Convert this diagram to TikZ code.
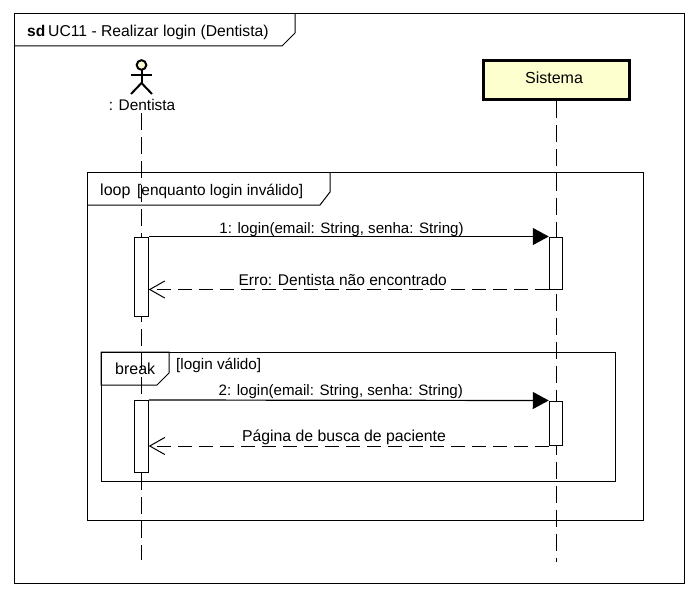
\documentclass[tikz,border=0pt]{standalone}
\usepackage{fontspec}
\setmainfont{Liberation Sans}
\usetikzlibrary{arrows.meta}
\definecolor{umlyellow}{HTML}{FEFFCE}
\tikzset{
  framebox/.style={draw, line width=1pt},
  lifeline/.style={line width=1pt, dash pattern=on 17pt off 7pt},
  actbar/.style={draw, fill=white, line width=1pt, inner sep=0pt, minimum width=13.5pt},
  msgcall/.style={line width=1.2pt, -{Triangle[length=16pt, width=17pt]}},
  msgreply/.style={line width=1pt, dash pattern=on 14pt off 7pt, -{Straight Barb[length=15pt, width=17pt, line width=1pt]}},
  msgtext/.style={inner sep=0pt, font=\fontsize{#1}{18}\selectfont},
  msgtext/.default=15,
}

\begin{document}
\begin{tikzpicture}[x=1pt, y=-1pt]
\useasboundingbox (0,0) rectangle (698,596);

% outer frame
\draw[framebox] (14,14) rectangle (684,583);
\draw[framebox] (14,46) -- (282,46) -- (295,33) -- (295,14);
\node[msgtext=15.5, anchor=base west] (sdlabel) at (27,37) {\textbf{sd}};
\node[msgtext=15.7, anchor=base west] (sdtitle) at (48,37) {UC11 - Realizar login (Dentista)};

% fragments
\draw[framebox] (87,173) rectangle (643,520);
\draw[framebox] (87,205) -- (320,205) -- (330,192) -- (330,173);
\node[msgtext=16, anchor=base west] (looplabel) at (100,195) {loop};
\node[msgtext=15.4, anchor=base west] (loopguard) at (137,195) {[enquanto login inválido]};

\draw[framebox] (101,352) rectangle (615,481);
\draw[framebox] (101,352) -- (169,352) -- (169,373) -- (157,385) -- (101,385) -- cycle;
\node[msgtext=16, anchor=base west] (breaklabel) at (115,374) {break};
\node[msgtext=15.3, anchor=base west] (breakguard) at (176,369) {[login válido]};

% participants
\node[draw, fill=umlyellow, line width=3pt, minimum width=146pt, minimum height=39pt, inner sep=0pt] (sistema) at (556,80.5) {};
\node[msgtext=16] (sistemalabel) at (554,78) {Sistema};
\node[msgtext=15.4, anchor=base] (dentista) at (142,110.5) {: Dentista};
\coordinate (dentistaTop) at (141.5,113);
\coordinate (dentistaEnd) at (141.5,560);
\coordinate (sistemaEnd) at (556,562);

\draw[lifeline] (dentistaTop) -- (dentistaEnd);
\draw[lifeline] (sistema.south) -- (sistemaEnd);

% actor
\draw[line width=2pt, fill=umlyellow] (141.5,65) circle (4.8pt);
\draw[line width=2pt] (141.5,70) -- (141.5,83);
\draw[line width=2pt] (131,75) -- (152,75);
\draw[line width=2pt] (131,94) -- (141.5,83) -- (152,94);

% activations
\node[actbar, minimum height=79pt] (dentistaA) at (141.5,276.5) {};
\node[actbar, minimum height=52pt] (sistemaA) at (556,263) {};
\node[actbar, minimum height=71.5pt] (dentistaB) at (141.5,436.25) {};
\node[actbar, minimum height=44.5pt] (sistemaB) at (556,423.25) {};

% messages
\draw[msgcall] (dentistaA.north east) -- (sistemaA.north west)
  node[msgtext=15.1, pos=0.482, above=-1pt] (msgA) {1: login(email: String, senha: String)};
\draw[msgreply] (sistemaA.south west) -- (dentistaA.east |- sistemaA.south west)
  node[msgtext=15.5, pos=0.515, above=3pt] (msgB) {Erro: Dentista não encontrado};
\draw[msgcall] (dentistaB.north east) -- (sistemaB.north west)
  node[msgtext=15.1, pos=0.48, above=1pt] (msgC) {2: login(email: String, senha: String)};
\draw[msgreply] (sistemaB.south west) -- (dentistaB.east |- sistemaB.south west)
  node[msgtext=15.8, pos=0.512, above=1pt] (msgD) {Página de busca de paciente};

\end{tikzpicture}
\end{document}
